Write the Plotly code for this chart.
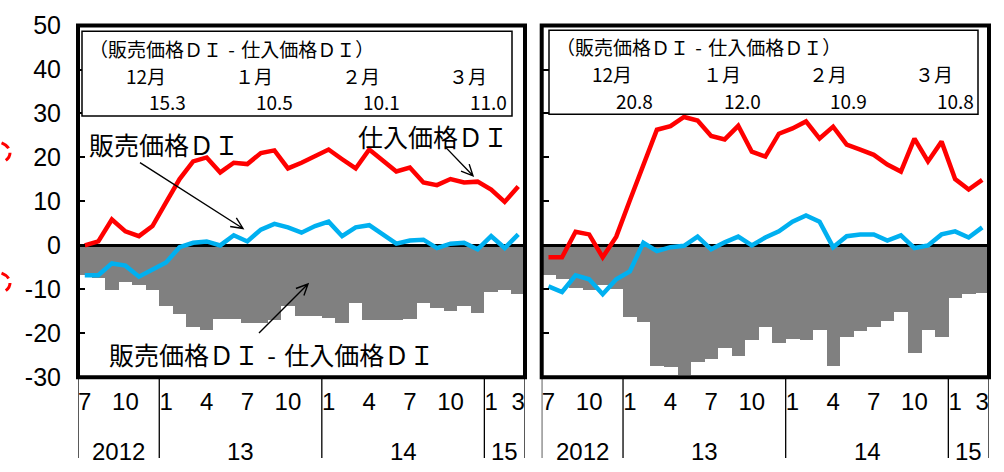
import math
import plotly.graph_objects as go

W, H = 1004, 472

# ---- data -------------------------------------------------------------
periods = ["2012-07", "2012-08", "2012-09", "2012-10", "2012-11", "2012-12",
           "2013-01", "2013-02", "2013-03", "2013-04", "2013-05", "2013-06",
           "2013-07", "2013-08", "2013-09", "2013-10", "2013-11", "2013-12",
           "2014-01", "2014-02", "2014-03", "2014-04", "2014-05", "2014-06",
           "2014-07", "2014-08", "2014-09", "2014-10", "2014-11", "2014-12",
           "2015-01", "2015-02", "2015-03"]

# left panel
left_purchase = [0.0, 0.9, 5.9, 3.2, 2.1, 4.4, 9.8, 15.1, 19.1, 20.0, 16.6, 18.8,
                 18.5, 21.0, 21.6, 17.5, 18.8, 20.3, 21.8, 19.6, 17.5, 21.8, 19.4, 16.8,
                 17.7, 14.3, 13.7, 15.1, 14.3, 14.5, 12.7, 9.9, 13.4]
left_sales = [-6.8, -6.8, -4.1, -4.6, -7.1, -5.6, -3.9, -0.4, 0.6, 0.9, 0.0, 2.3,
              0.9, 3.6, 4.9, 4.1, 2.9, 4.4, 5.4, 2.1, 4.1, 4.6, 2.5, 0.4,
              1.1, 1.3, -0.6, 0.4, 0.6, -0.9, 2.1, -0.6, 2.5]
left_gap = [-6.6, -7.3, -10.0, -8.1, -8.9, -10.0, -13.7, -15.5, -18.5, -19.1, -16.7, -16.7,
            -17.5, -17.5, -16.8, -13.6, -16.0, -16.0, -16.3, -17.5, -13.1, -16.8, -16.8, -16.8,
            -16.7, -13.1, -14.1, -14.8, -13.7, -15.3, -10.5, -10.1, -10.9]

# right panel
right_purchase = [-2.7, -2.7, 3.1, 2.5, -2.7, 2.0, 10.2, 18.1, 26.3, 27.1, 29.2, 28.4,
                  24.9, 24.1, 27.2, 21.3, 20.2, 25.4, 26.6, 28.2, 24.3, 27.0, 22.9, 21.8,
                  20.6, 18.4, 16.8, 24.3, 19.1, 23.6, 15.1, 12.7, 14.9]
right_sales = [-9.3, -10.6, -6.8, -7.7, -11.1, -7.7, -5.9, 0.6, -1.3, -0.4, -0.1, 2.0,
               -0.9, 0.7, 2.0, 0.0, 1.8, 3.2, 5.4, 6.8, 5.4, -0.4, 2.1, 2.5,
               2.5, 1.1, 2.3, -0.6, 0.0, 2.5, 3.2, 1.8, 4.1]
right_gap = [-6.6, -7.6, -9.6, -10.0, -9.0, -9.8, -16.2, -17.4, -27.4, -27.6, -29.4, -26.4,
             -25.7, -23.3, -25.1, -21.4, -18.4, -22.1, -21.1, -21.4, -19.1, -27.3, -20.8, -19.4,
             -18.4, -17.1, -15.0, -24.4, -19.1, -20.8, -11.9, -11.0, -10.7]

# axis labels
month_tick_idx = [0, 3, 6, 9, 12, 15, 18, 21, 24, 27, 30, 32]
month_tick_text = ["7", "10", "1", "4", "7", "10", "1", "4", "7", "10", "1", "3"]
year_text = ["2012", "13", "14", "15"]
year_first_idx = [0, 6, 18, 30]
year_last_idx = [5, 17, 29, 32]
y_ticks = [50, 40, 30, 20, 10, 0, -10, -20, -30]
y_tick_text = ["50", "40", "30", "20", "10", "0", "-10", "-20", "-30"]

# boxed summary (sales DI - purchase DI, latest months)
DASH = "\u2004-\u2004"
box_title = "（販売価格ＤＩ" + DASH + "仕入価格ＤＩ）"
box_months = ["12月", "１月", "２月", "３月"]
left_box_values = ["15.3", "10.5", "10.1", "11.0"]
right_box_values = ["20.8", "12.0", "10.9", "10.8"]

# ---- styling ----------------------------------------------------------
RED = "#FF0000"
BLUE = "#00B0F0"
GRAY = "#808080"
JP = "Noto Sans CJK JP"
LAT = "Liberation Sans, Arial, sans-serif"


def px(x):
    return x / W


def py(y):
    return 1 - y / H


x = list(range(len(periods)))
x_lo, x_hi = -0.5, len(periods) - 0.5

L_DOM = [px(78), px(525)]
R_DOM = [px(541.7), px(989)]
Y_DOM = [py(386.25), py(12.25)]

fig = go.Figure()

panels = [
    ("x", "y", left_gap, left_purchase, left_sales),
    ("x2", "y2", right_gap, right_purchase, right_sales),
]
for xa, ya, gap, purch, sales in panels:
    fig.add_trace(go.Bar(x=x, y=gap, xaxis=xa, yaxis=ya, marker=dict(color=GRAY, line=dict(width=0)),
                         showlegend=False, hoverinfo="skip"))
    # zero line, drawn above the bars and below the DI lines
    fig.add_trace(go.Scatter(x=[x_lo, x_hi], y=[0, 0], xaxis=xa, yaxis=ya, mode="lines",
                             line=dict(color="black", width=3), showlegend=False, hoverinfo="skip"))
    fig.add_trace(go.Scatter(x=x, y=purch, xaxis=xa, yaxis=ya, mode="lines",
                             line=dict(color=RED, width=4.5), showlegend=False))
    fig.add_trace(go.Scatter(x=x, y=sales, xaxis=xa, yaxis=ya, mode="lines",
                             line=dict(color=BLUE, width=4.5), showlegend=False))

xaxis_common = dict(range=[x_lo, x_hi], tickmode="array", tickvals=month_tick_idx, ticktext=month_tick_text,
                    ticks="", showgrid=False, zeroline=False, showline=False,
                    tickfont=dict(family=LAT, size=24, color="black"), ticklabelstandoff=8,
                    ticklabeloverflow="allow", fixedrange=True)
yaxis_common = dict(domain=Y_DOM, range=[-30, 50], tickmode="array", tickvals=y_ticks, ticktext=y_tick_text,
                    ticks="inside", ticklen=7, tickwidth=1.5, tickcolor="black",
                    showgrid=False, zeroline=False, showline=False, ticklabeloverflow="allow",
                    tickfont=dict(family=LAT, size=25, color="black"), fixedrange=True)

fig.update_layout(
    width=W, height=H, margin=dict(l=0, r=0, t=0, b=0),
    paper_bgcolor="white", plot_bgcolor="white", bargap=0, showlegend=False,
    xaxis=dict(domain=L_DOM, anchor="y", **xaxis_common),
    yaxis=dict(anchor="x", ticklabelstandoff=16, **yaxis_common),
    xaxis2=dict(domain=R_DOM, anchor="y2", **xaxis_common),
    yaxis2=dict(anchor="x2", showticklabels=False, **yaxis_common),
)

shapes = []
annotations = []

# year separators and year labels under each panel
for xa in ("x", "x2"):
    bounds = [i - 0.5 for i in year_first_idx] + [year_last_idx[-1] + 0.5]
    for b in bounds:
        shapes.append(dict(type="line", xref=xa, yref="paper", x0=b, x1=b, y0=0, y1=Y_DOM[0],
                           line=dict(color="black", width=1.3)))
    for name, a, b in zip(year_text, year_first_idx, year_last_idx):
        annotations.append(dict(xref=xa, yref="paper", x=(a + b) / 2, y=py(465), text=name,
                                showarrow=False, font=dict(family=LAT, size=24, color="black"),
                                xanchor="center", yanchor="middle"))

# thick panel frames
for dom in (L_DOM, R_DOM):
    shapes.append(dict(type="rect", xref="paper", yref="paper", x0=dom[0], x1=dom[1],
                       y0=Y_DOM[0], y1=Y_DOM[1], line=dict(color="black", width=4), layer="above"))

# summary boxes
boxes = [
    (82, 512, 18.3, 108.3, 88, [146, 254, 361, 468], [167, 274, 381, 488], left_box_values, 36.5),
    (549, 978, 17.3, 106.7, 555, [612, 722, 828, 934], [634, 742, 848, 955], right_box_values, 34.5),
]
ROW = 28.5
for bx0, bx1, by0, by1, tx, mx, vx, vals, ty in boxes:
    shapes.append(dict(type="rect", xref="paper", yref="paper", x0=px(bx0), x1=px(bx1),
                       y0=py(by1), y1=py(by0), line=dict(color="black", width=1.5),
                       fillcolor="white", layer="above"))
    annotations.append(dict(xref="paper", yref="paper", x=px(tx), y=py(ty), text=box_title,
                            showarrow=False, xanchor="left", yanchor="middle", borderpad=0,
                            font=dict(family=JP, size=19, color="black")))
    for m, cx in zip(box_months, mx):
        annotations.append(dict(xref="paper", yref="paper", x=px(cx), y=py(ty + ROW), text=m,
                                showarrow=False, xanchor="center", yanchor="middle", borderpad=0,
                                font=dict(family=JP, size=19, color="black")))
    for v, cx in zip(vals, vx):
        annotations.append(dict(xref="paper", yref="paper", x=px(cx), y=py(ty + 2 * ROW), text=v,
                                showarrow=False, xanchor="center", yanchor="middle", borderpad=0,
                                font=dict(family=JP, size=19, color="black")))

# series labels in the left panel
labels = [
    ("販売価格ＤＩ", 163.5, 138.3),
    ("仕入価格ＤＩ", 432.5, 129.3),
    ("販売価格ＤＩ" + DASH + "仕入価格ＤＩ", 271, 361.7),
]
for text, cx, cy in labels:
    annotations.append(dict(xref="paper", yref="paper", x=px(cx), y=py(cy), text=text, showarrow=False,
                            xanchor="center", yanchor="middle", font=dict(family=JP, size=25, color="black")))


def arrow_path(x0, y0, x1, y1, head=13, spread=25):
    ang = math.atan2(y1 - y0, x1 - x0)
    pts = []
    for s in (-1, 1):
        a = ang + math.pi + s * math.radians(spread)
        pts.append((x1 + head * math.cos(a), y1 + head * math.sin(a)))
    p = lambda X, Y: f"{px(X):.5f},{py(Y):.5f}"
    return (f"M{p(x0, y0)} L{p(x1, y1)} M{p(*pts[0])} L{p(x1, y1)} L{p(*pts[1])}")


for tail, head in [((140, 158), (243, 228)), ((445, 141), (473, 172)), ((259, 339), (308, 287))]:
    shapes.append(dict(type="path", xref="paper", yref="paper", path=arrow_path(*tail, *head),
                       line=dict(color="black", width=1.4), layer="above"))

# dashed red callout marks at the left edge
for cy in (147.5, 286):
    shapes.append(dict(type="circle", xref="paper", yref="paper", x0=px(-22), x1=px(10),
                       y0=py(cy + 12), y1=py(cy - 12), line=dict(color=RED, width=3, dash="dash")))

fig.update_layout(shapes=shapes, annotations=annotations)
fig.write_html("out.html")
